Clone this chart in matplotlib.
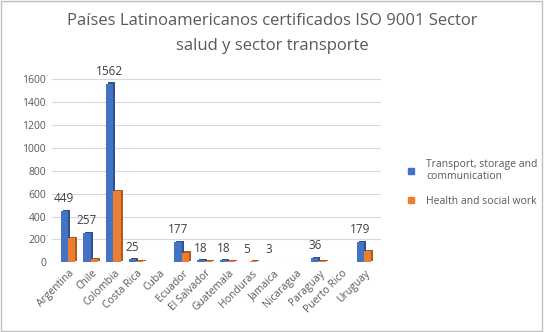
import numpy as np
import matplotlib.pyplot as plt
from matplotlib.patches import Rectangle
from matplotlib.lines import Line2D

####################################
#               Data               #
####################################

countries = ["Argentina", "Chile", "Colombia", "Costa Rica", "Cuba", "Ecuador",
             "El Salvador", "Guatemala", "Honduras", "Jamaica", "Nicaragua",
             "Paraguay", "Puerto Rico", "Uruguay"]
transport = [449, 257, 1562, 25, 0, 177, 18, 18, 5, 3, 0, 36, 0, 179]
health = [215, 30, 625, 8, 5, 85, 8, 8, 10, 5, 5, 10, 0, 100]
labels_shown = [True, True, True, True, False, True, True, True, True, True,
                False, True, False, True]
yticks = [0, 200, 400, 600, 800, 1000, 1200, 1400, 1600]

title = "Países Latinoamericanos certificados ISO 9001 Sector\nsalud y sector transporte"
series_names = ["Transport, storage and\ncommunication", "Health and social work"]

####################################
#              Plot                #
####################################

plt.rcParams['font.family'] = ['Open Sans', 'DejaVu Sans']

blue = "#4472c4"
blue_dark = "#2f528f"
orange = "#ed7d31"
orange_dark = "#ae5a21"
grey_txt = "#595959"

fig = plt.figure(figsize=(5.44, 3.32), dpi=100)
ax = fig.add_axes([0.095, 0.21, 0.605, 0.565])

x = np.arange(len(countries))
w = 0.32
depth = 0.09

tr = np.array(transport, dtype=float)
he = np.array(health, dtype=float)

# fake 3d: darker side faces behind the front faces
ax.bar(x - 0.2 + depth, tr, width=w, bottom=10, color=blue_dark, zorder=2)
ax.bar(x - 0.2, tr, width=w, color=blue, zorder=3)
ax.bar(x + 0.12 + depth, he, width=w, bottom=10, color=orange_dark, zorder=4)
ax.bar(x + 0.12, he, width=w, color=orange, zorder=5)

for i, v in enumerate(transport):
    if labels_shown[i]:
        ax.text(x[i] - 0.2, v + 50, str(v), ha='center', va='bottom',
                fontsize=8.5, color="#404040", zorder=6)

ax.set_ylim(0, 1640)
ax.set_xlim(-0.75, len(countries) - 0.3)
ax.set_yticks(yticks)
ax.set_yticklabels([str(t) for t in yticks], fontsize=7.5, color=grey_txt)
ax.set_xticks(x)
ax.set_xticklabels(countries, rotation=45, ha='right', rotation_mode='anchor',
                   fontsize=7.5, color=grey_txt)
ax.tick_params(length=0, pad=4)
ax.grid(axis='y', color="#d9d9d9", linewidth=0.8, zorder=0)
for s in ax.spines.values():
    s.set_visible(False)

fig.text(0.5, 0.96, title, ha='center', va='top', fontsize=12,
         color=grey_txt, linespacing=1.75)

handles = [Line2D([], [], marker='s', linestyle='none', color=blue, markersize=5),
           Line2D([], [], marker='s', linestyle='none', color=orange, markersize=5)]
fig.legend(handles, series_names, loc='center left', bbox_to_anchor=(0.72, 0.45),
           frameon=False, fontsize=7.5, handletextpad=0.4, labelspacing=1.3,
           labelcolor=grey_txt)

fig.patches.append(Rectangle((0.002, 0.003), 0.995, 0.994, transform=fig.transFigure,
                             fill=False, edgecolor="#bfbfbf", linewidth=1))

plt.savefig('out.png', dpi=100)
